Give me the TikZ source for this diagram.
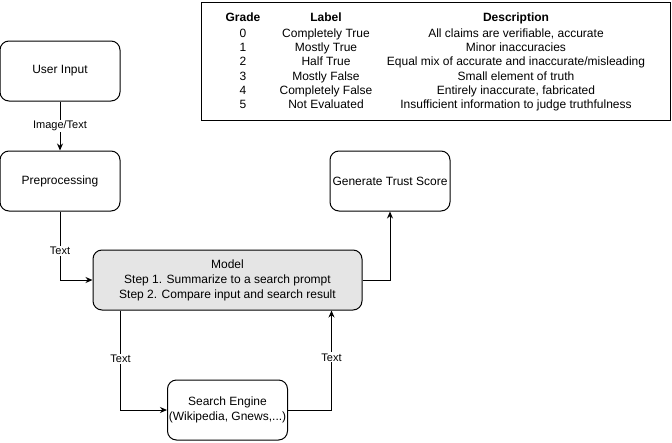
\documentclass[tikz,border=0pt]{standalone}
\usepackage{fontspec}
\setmainfont{Liberation Sans}
\usetikzlibrary{arrows.meta}
\tikzset{
  box/.style={draw, line width=1pt, rounded corners=9pt, minimum width=120pt, minimum height=60pt, align=center, inner sep=1pt, font=\fontsize{12}{15}\selectfont},
  conn/.style={draw, line width=1pt, -{Stealth[length=7pt,width=6pt]}},
  elabel/.style={fill=white, inner sep=1pt, font=\fontsize{11}{13}\selectfont},
  tcell/.style={inner sep=0pt, anchor=base, font=\fontsize{12}{14}\selectfont},
}
\begin{document}
\begin{tikzpicture}[x=1pt,y=-1pt]
\useasboundingbox (0,0) rectangle (672,442);
% table
\node[draw, line width=1pt, minimum width=469pt, minimum height=118pt, anchor=north west, inner sep=0pt] (table) at (201,2) {};
\node[tcell, font=\fontsize{12}{14}\selectfont\bfseries] (hg) at (243,21) {Grade};
\node[tcell, font=\fontsize{12}{14}\selectfont\bfseries] (hl) at (326,21) {Label};
\node[tcell, font=\fontsize{12}{14}\selectfont\bfseries] (hd) at (516,21) {Description};
\foreach \g/\l/\d [count=\i from 0] in {0/Completely True/{All claims are verifiable, accurate},1/Mostly True/Minor inaccuracies,2/Half True/{Equal mix of accurate and inaccurate/misleading},3/Mostly False/Small element of truth,4/Completely False/{Entirely inaccurate, fabricated},5/Not Evaluated/Insufficient information to judge truthfulness}{
  \node[tcell] (g\i) at (243,{37.5+14.2*\i}) {\g};
  \node[tcell] (l\i) at (326,{37.5+14.2*\i}) {\l};
  \node[tcell] (d\i) at (516,{37.5+14.2*\i}) {\d};
}
% boxes
\node[box] (user) at (60,71) {User Input};
\node[box] (pre) at (60,181) {Preprocessing};
\node[box, fill=black!10, minimum width=269pt] (model) at (227.5,280) {Model\\Step 1. Summarize to a search prompt\\Step 2. Compare input and search result};
\node[box] (search) at (227.5,410) {Search Engine\\(Wikipedia, Gnews,...)};
\node[box] (trust) at (390,181) {Generate Trust Score};
% connectors
\draw[conn] (user) -- node[elabel] (lab1) {Image/Text} (pre);
\draw[conn] (pre.south) |- node[elabel, pos=0.29] (lab2) {Text} (model.west);
\draw[conn] (model.east) -| (trust.south);
\draw[conn] ([xshift=28pt]model.south west) |- node[elabel, pos=0.245] (lab3) {Text} (search.west);
\draw[conn] (search.east) -| node[elabel, pos=0.765] (lab4) {Text} ([xshift=-31pt]model.south east);
\end{tikzpicture}
\end{document}
